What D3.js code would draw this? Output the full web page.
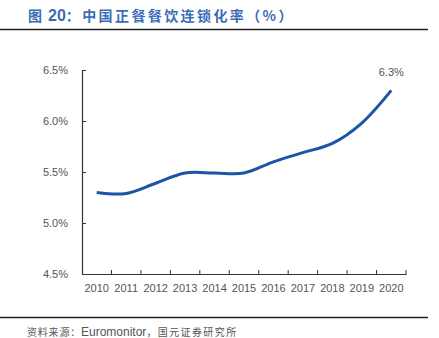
<!DOCTYPE html>
<html>
<head>
<meta charset="utf-8">
<script src="https://cdn.jsdelivr.net/npm/d3@7"></script>
<style>
  body { margin: 0; background: #fff; }
  svg { display: block; }
</style>
</head>
<body>
<div id="chart"></div>
<script>
// 中国正餐餐饮连锁化率 2010-2020
var years = ["2010", "2011", "2012", "2013", "2014", "2015", "2016", "2017", "2018", "2019", "2020"];
var chainRate = [5.30, 5.29, 5.39, 5.49, 5.49, 5.49, 5.60, 5.69, 5.78, 5.98, 6.30];
var yTicks = [4.5, 5.0, 5.5, 6.0, 6.5];

var w = 439, h = 338;
var cjk = "Noto Sans CJK SC, sans-serif";
var latin = "Liberation Sans, Arial, sans-serif";
var svg = d3.select("#chart").append("svg").attr("width", w).attr("height", h);

// 标题
var title = svg.append("text")
    .attr("x", 28).attr("y", 21)
    .attr("font-weight", "bold")
    .attr("fill", "#3a6db5");
title.append("tspan").attr("font-family", cjk).attr("font-size", "14px").text("图");
title.append("tspan").attr("dx", 6).attr("font-family", latin).attr("font-size", "16px").text("20");
title.append("tspan").attr("font-family", cjk).attr("font-size", "14px")
    .attr("letter-spacing", "2.4px").text("：中国正餐餐饮连锁化率（%）");
svg.append("line").attr("x1", 0).attr("x2", 428).attr("y1", 29.5).attr("y2", 29.5)
    .attr("stroke", "#222").attr("stroke-width", 1.5);

var x = d3.scaleBand().domain(years).range([82, 406]);
var y = d3.scaleLinear().domain([4.5, 6.5]).range([274, 70]);

var xAxis = svg.append("g").attr("transform", "translate(0,274)")
    .call(d3.axisBottom(x).tickSizeOuter(0).tickSize(0).tickPadding(10));
xAxis.select(".domain").attr("stroke", "#333").attr("stroke-width", 1.2);
xAxis.selectAll("text").attr("font-family", latin)
    .attr("font-size", "11px").attr("fill", "#555");
// 分类边界刻度
xAxis.selectAll(".bound").data(years).enter().append("line")
    .attr("class", "bound")
    .attr("x1", function (d) { return x(d) + x.bandwidth(); })
    .attr("x2", function (d) { return x(d) + x.bandwidth(); })
    .attr("y1", 0).attr("y2", -4)
    .attr("stroke", "#333");

var yAxis = svg.append("g").attr("transform", "translate(82,0)")
    .call(d3.axisLeft(y).tickValues(yTicks).tickSize(-4).tickSizeOuter(0).tickPadding(14)
        .tickFormat(function (d) { return d.toFixed(1) + "%"; }));
yAxis.select(".domain").attr("stroke", "#333").attr("stroke-width", 1.2);
yAxis.selectAll(".tick line").attr("stroke", "#333");
yAxis.selectAll("text").attr("font-family", latin)
    .attr("font-size", "11px").attr("fill", "#555");

var line = d3.line()
    .x(function (d, i) { return x(years[i]) + x.bandwidth() / 2; })
    .y(function (d) { return y(d); })
    .curve(d3.curveCatmullRom.alpha(0.5));

svg.append("path").datum(chainRate)
    .attr("d", line)
    .attr("fill", "none")
    .attr("stroke", "#1b55a5")
    .attr("stroke-width", 3);

// 末值标签
var last = chainRate.length - 1;
svg.append("text")
    .attr("x", x(years[last]) + x.bandwidth() / 2)
    .attr("y", y(chainRate[last]) - 14)
    .attr("text-anchor", "middle")
    .attr("font-family", latin)
    .attr("font-size", "11px").attr("fill", "#555")
    .text(chainRate[last].toFixed(1) + "%");

// 来源
svg.append("line").attr("x1", 0).attr("x2", 428).attr("y1", 317.5).attr("y2", 317.5)
    .attr("stroke", "#222").attr("stroke-width", 1.5);
var src = svg.append("text")
    .attr("x", 27).attr("y", 336)
    .attr("fill", "#555");
src.append("tspan").attr("font-family", cjk).attr("font-size", "10px")
    .attr("letter-spacing", "0.8px").text("资料来源：");
src.append("tspan").attr("font-family", latin).attr("font-size", "12px").text("Euromonitor");
src.append("tspan").attr("font-family", cjk).attr("font-size", "10px")
    .attr("letter-spacing", "1.4px").text("，国元证券研究所");
</script>
</body>
</html>
